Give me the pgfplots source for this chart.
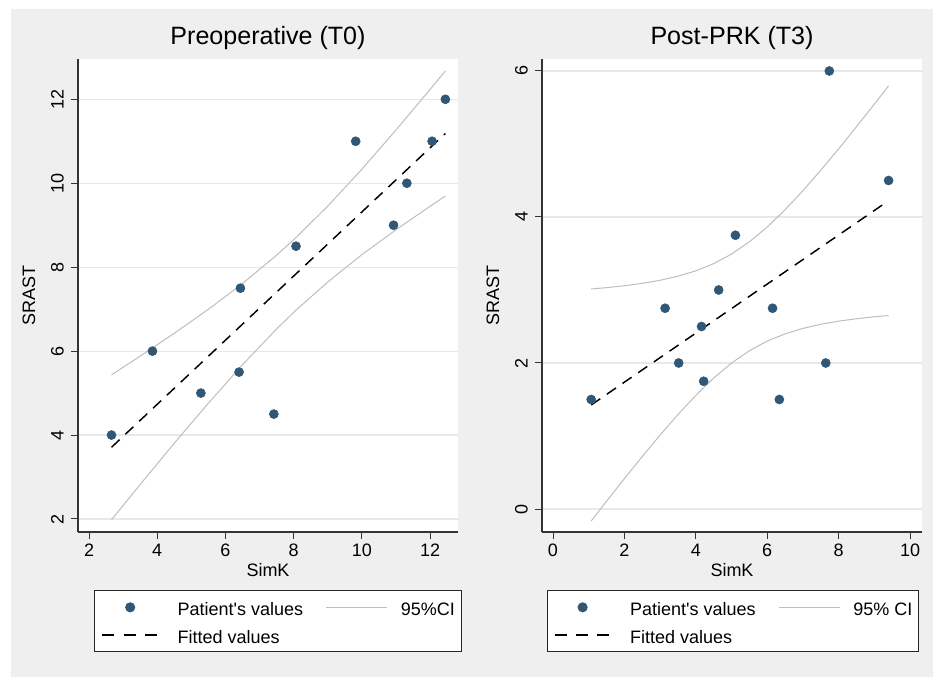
\documentclass[border=0pt]{standalone}
\usepackage{pgfplots}
\pgfplotsset{compat=1.18}
\usepackage{fontspec}
\setmainfont{Liberation Sans}

\definecolor{bggray}{RGB}{239,239,239}
\definecolor{stnavy}{RGB}{48,88,118}
\definecolor{cigray}{RGB}{190,190,190}
\definecolor{gridgray}{RGB}{232,232,232}

% Stata-like panel style
\pgfplotsset{
  stata/.style={
    scale only axis, width=285bp, height=354.75bp, anchor=south west,
    axis x line*=bottom, axis y line*=left,
    axis line style={-, draw=black!80, line width=0.8bp},
    axis background/.style={fill=white},
    tick align=outside, major tick length=5.25bp,
    tick style={draw=black!80, line width=0.75bp},
    ymajorgrids, major grid style={draw=gridgray, line width=0.9bp},
    /pgf/number format/assume math mode=true,
    tick label style={font=\fontsize{13.5bp}{16bp}\selectfont},
    label style={font=\fontsize{13.5bp}{16bp}\selectfont},
    xticklabel style={anchor=base, yshift=-13bp},
    yticklabel style={xshift=-5.5bp, rotate=90, anchor=base},
    title style={font=\fontsize{18.8bp}{21bp}\selectfont, at={(0.5,1)}, anchor=base, yshift=5.25bp},
    xlabel style={at={(axis description cs:0.5,-0.0945)}, anchor=base},
    ylabel style={at={(axis description cs:-0.113,0.5)}, anchor=base},
    xlabel=SimK, ylabel=SRAST,
    legend columns=2, legend cell align=left,
    legend style={anchor=north west, draw=black!85, line width=0.75bp, fill=white,
      inner xsep=5bp, inner ysep=3bp, row sep=1.55bp,
      font=\fontsize{13.5bp}{16bp}\selectfont,
      nodes={inner sep=0pt, text height=15.75bp, text depth=3.5bp},
      /tikz/column 1/.style={column sep=14.8bp},
      /tikz/column 2/.style={column sep=17bp},
      /tikz/column 3/.style={column sep=9.75bp}},
  },
  pts/.style={only marks, mark=*, mark size=3.4bp, stnavy},
  ci/.style={cigray, line width=0.75bp, no marks},
  fit/.style={black, dash pattern=on 8.25bp off 6bp, line width=1.1bp, no marks},
  ptsleg/.style={pts, legend image code/.code={\draw[##1] plot[only marks] coordinates {(21bp,0bp)};}},
  cileg/.style={ci, legend image code/.code={\draw[##1] (0bp,0bp) -- (45.75bp,0bp);}},
  fitleg/.style={black, line width=1.1bp, dash pattern=on 9bp off 7bp,
    legend image code/.code={\draw[##1] (0bp,0bp) -- (41.25bp,0bp);}},
}

\begin{document}
\begin{tikzpicture}
\path[use as bounding box] (0bp,0bp) rectangle (699.75bp,-510.75bp);
\fill[bggray] (8.25bp,-6.75bp) rectangle (699.75bp,-507.75bp);

% Preoperative
\begin{axis}[stata, at={(58.5bp,-399bp)},
  title={Preoperative (T0)},
  xmin=1.677, xmax=12.82, ymin=1.69, ymax=12.96,
  xtick={2,4,6,8,10,12}, ytick={2,4,6,8,10,12},
  legend style={at={(axis description cs:0.0429,-0.1226)}}]
  \addlegendimage{ptsleg}
  \addlegendentry{Patient\textquotesingle s values}
  \addlegendimage{cileg}
  \addlegendentry{95\%CI}
  \addlegendimage{fitleg}
  \addlegendentry{Fitted values}
  \addplot[ci, forget plot] coordinates {(2.66,5.435) (3.5,5.880) (4.5,6.425) (5.5,6.996) (6.5,7.609) (7.5,8.285) (8.06,8.699) (9,9.455) (10,10.333) (11,11.267) (12,12.234) (12.45,12.677)};
  \addplot[ci, forget plot] coordinates {(2.66,1.983) (3.5,2.822) (4.5,3.805) (5.5,4.760) (6.5,5.675) (7.5,6.527) (8.06,6.968) (9,7.647) (10,8.297) (11,8.891) (12,9.450) (12.45,9.695)};
  \addplot[fit, forget plot] coordinates {(2.66,3.709) (12.45,11.186)};
  \addplot[pts, forget plot] coordinates {(2.66,4) (3.86,6) (5.28,5) (6.40,5.5) (6.44,7.5) (7.42,4.5) (8.07,8.5) (9.82,11) (10.93,9) (11.32,10) (12.06,11) (12.45,12)};
\end{axis}

% Post-PRK
\begin{axis}[stata, at={(406.5bp,-399bp)},
  title={Post-PRK (T3)},
  xmin=-0.308, xmax=10.336, ymin=-0.315, ymax=6.164,
  xtick={0,2,4,6,8,10}, ytick={0,2,4,6},
  legend style={at={(axis description cs:0.0124,-0.1226)}}]
  \addlegendimage{ptsleg}
  \addlegendentry{Patient\textquotesingle s values}
  \addlegendimage{cileg}
  \addlegendentry{95\% CI}
  \addlegendimage{fitleg}
  \addlegendentry{Fitted values}
  \addplot[ci, forget plot] coordinates {(1.07,3.014) (1.5,3.032) (2,3.058) (2.5,3.091) (3,3.133) (3.5,3.189) (4,3.262) (4.5,3.361) (5,3.492) (5.5,3.659) (6,3.863) (6.5,4.099) (7,4.360) (7.5,4.640) (8,4.933) (8.5,5.236) (9,5.545) (9.4,5.796)};
  \addplot[ci, forget plot] coordinates {(1.07,-0.164) (1.5,0.107) (2,0.416) (2.5,0.719) (3,1.013) (3.5,1.294) (4,1.556) (4.5,1.793) (5,1.999) (5.5,2.168) (6,2.300) (6.5,2.399) (7,2.474) (7.5,2.530) (8,2.573) (8.5,2.606) (9,2.633) (9.4,2.650)};
  \addplot[fit, forget plot] coordinates {(1.07,1.425) (9.40,4.223)};
  \addplot[pts, forget plot] coordinates {(1.07,1.5) (3.14,2.75) (3.52,2) (4.16,2.5) (4.22,1.75) (4.64,3) (5.11,3.75) (6.15,2.75) (6.34,1.5) (7.64,2) (7.74,6) (9.40,4.5)};
\end{axis}
\end{tikzpicture}
\end{document}
